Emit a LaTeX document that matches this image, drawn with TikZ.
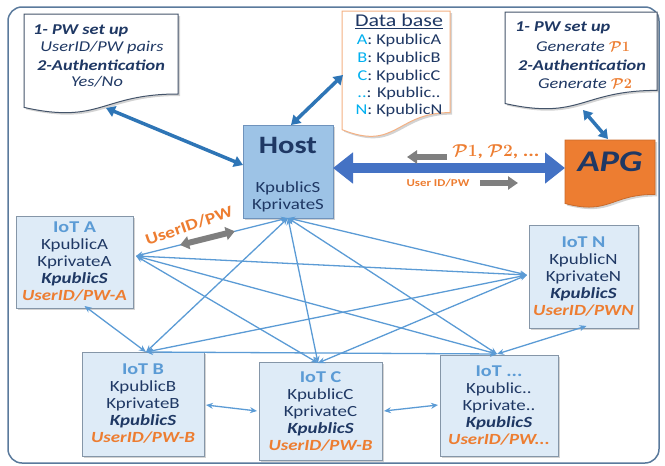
\documentclass[tikz,border=0pt]{standalone}
\usepackage{fontspec}
\setmainfont{Carlito}[FakeStretch=1.22]
\usetikzlibrary{arrows.meta,shadows,calc}
\definecolor{navy}{HTML}{1F3864}
\definecolor{tblue}{HTML}{5B9BD5}
\definecolor{orng}{HTML}{ED7D31}
\definecolor{connc}{HTML}{5B9BD5}
\definecolor{thickc}{HTML}{2E75B6}
\definecolor{bigc}{HTML}{4472C4}
\definecolor{hostfill}{HTML}{9DC3E6}
\definecolor{hostline}{HTML}{6F93BC}
\definecolor{iotfill}{HTML}{DEEBF7}
\definecolor{iotline}{HTML}{8596A8}
\definecolor{cyanl}{HTML}{00B0F0}
\definecolor{framec}{HTML}{5A7A9C}
\definecolor{docline}{HTML}{44546A}
\definecolor{dbline}{HTML}{F4B183}
\definecolor{greyar}{HTML}{7F7F7F}
\newcommand\docpath[5]{\path[#1] (#2,#3) -- (#4,#3) -- (#4,{#3+0.8*#5}) .. controls ({(#2+#4)/2},{#3+0.8*#5}) and ({(#2+#4)/2},{#3+1.107*#5}) .. (#2,{#3+0.934*#5}) -- cycle;}
\newcommand\iottxt[4]{{\fontsize{16.5}{18}\selectfont\bfseries\color{tblue}#1}\\#2\\#3\\{\bfseries\itshape KpublicS}\\{\bfseries\itshape\color{orng}#4}}
\newcommand\calP[1]{{\color{orng}\boldmath$\mathcal{P}#1$}}
\begin{document}
\begin{tikzpicture}[x=1pt,y=-1pt,
  every node/.style={inner sep=0pt, outer sep=0pt, text=navy},
  body/.style={font=\fontsize{15.5}{17}\selectfont},
  docf/.style={font=\fontsize{15}{17}\selectfont},
  shd/.style={drop shadow={shadow xshift=2pt, shadow yshift=-2pt, opacity=0.35}},
  iot/.style={draw=iotline, fill=iotfill, line width=0.8pt, align=center, body, shd},
  hostbox/.style={draw=hostline, fill=hostfill, line width=0.8pt, shd},
  docsty/.style={draw=docline, fill=white, line width=1pt, shd},
  dbsty/.style={draw=dbline, fill=white, line width=1pt, shd},
  apgsty/.style={draw=orng!85!black, fill=orng, line width=0.8pt, shd},
  conn/.style={draw=connc, line width=1.3pt, {Stealth[length=7pt,width=6pt]}-{Stealth[length=7pt,width=6pt]}},
  fat/.style={draw=thickc, line width=3.5pt, {Triangle[length=9pt,width=11pt]}-{Triangle[length=9pt,width=11pt]}},
  bigarrow/.style={draw=bigc, line width=10pt, {Triangle[length=20pt,width=30pt]}-{Triangle[length=20pt,width=30pt]}},
  greyarrow/.style={draw=greyar, line width=6pt, -{Triangle[length=10pt,width=13pt]}},
  greydbl/.style={draw=greyar, line width=6pt, {Triangle[length=9pt,width=13pt]}-{Triangle[length=9pt,width=13pt]}},
  olab/.style={text=orng, font=\fontsize{10.5}{12}\selectfont\bfseries}]
\useasboundingbox (0,0) rectangle (665,466);
\draw[framec, line width=1.5pt, rounded corners=14pt] (8,7) rectangle (659,463);

% documents
\docpath{docsty}{24}{14}{178}{100}
\docpath{dbsty}{342}{11}{450}{127}
\docpath{docsty}{505}{12}{657}{98}
\docpath{apgsty}{565}{140}{655}{68}

% left doc text
\node[anchor=west, font=\fontsize{15}{17}\selectfont\bfseries\itshape] (l1) at (33,31) {1- PW set up};
\node[font=\fontsize{15}{17}\selectfont\itshape] (l2) at (102,48) {UserID/PW pairs};
\node[font=\fontsize{15}{17}\selectfont\bfseries\itshape] (l3) at (101,65) {2-Authentication};
\node[font=\fontsize{15}{17}\selectfont\itshape] (l4) at (97,82) {Yes/No};

% database text
\node[font=\fontsize{18}{20}\selectfont] (dbt) at (399,21) {\underline{Data base}};
\node[docf] (db1) at (399,40) {{\color{cyanl}A}: KpublicA};
\node[docf] (db2) at (399,58) {{\color{cyanl}B}: KpublicB};
\node[docf] (db3) at (399,76) {{\color{cyanl}C}: KpublicC};
\node[docf] (db4) at (399,93) {{\color{cyanl}..}: Kpublic..};
\node[docf] (db5) at (399,110) {{\color{cyanl}N}: KpublicN};

% right doc text
\node[anchor=west, font=\fontsize{15}{17}\selectfont\bfseries\itshape] (r1) at (515,28) {1- PW set up};
\node[font=\fontsize{15}{17}\selectfont\itshape] (r2) at (583,47) {Generate \calP{1}};
\node[font=\fontsize{15}{17}\selectfont\bfseries\itshape] (r3) at (582,65) {2-Authentication};
\node[font=\fontsize{15}{17}\selectfont\itshape] (r4) at (585,84) {Generate \calP{2}};

% APG
\node[font=\fontsize{30}{32}\selectfont\bfseries\itshape] (apg) at (610,162) {APG};

% Host
\node[hostbox, minimum width=90, minimum height=93] (host) at (288,171.5) {};
\node[font=\fontsize{25}{27}\selectfont\bfseries] (hostt) at (288,145) {Host};
\node[body, align=center] (hostk) at (288,197) {KpublicS\\KprivateS};

% IoT boxes
\node[iot, minimum width=117, minimum height=92] (ioa) at (74.5,262) {\iottxt{IoT A}{KpublicA}{KprivateA}{UserID/PW-A}};
\node[iot, minimum width=109, minimum height=103] (ion) at (583.5,276.5) {\iottxt{IoT N}{KpublicN}{KprivateN}{UserID/PWN}};
\node[iot, minimum width=122, minimum height=104] (iob) at (143,404) {\iottxt{IoT B}{KpublicB}{KprivateB}{UserID/PW-B}};
\node[iot, minimum width=123, minimum height=98] (ioc) at (320.5,411) {\iottxt{IoT C}{KpublicC}{KprivateC}{UserID/PW-B}};
\node[iot, minimum width=118, minimum height=101] (iod) at (499,405.5) {\iottxt{IoT ...}{Kpublic..}{Kprivate..}{UserID/PW...}};

% connector end points
\coordinate (pH) at (host.south);
\coordinate (pA) at ($(ioa.east)+(3,-6)$);
\coordinate (pAb) at ($(ioa.south)+(10,-2)$);
\coordinate (pN) at ($(ion.west)+(-2,-1.5)$);
\coordinate (pNb) at ($(ion.south)+(3,-2)$);
\coordinate (pB) at ($(iob.north)+(3,0)$);
\coordinate (pC) at ($(ioc.north)+(-2.5,1)$);
\coordinate (pD) at ($(iod.north)+(-2,-1)$);
\coordinate (pBr) at (206,405);
\coordinate (pCl) at (257,411);
\coordinate (pCr) at (384,411);
\coordinate (pDl) at (438,405);
\coordinate (ldB) at (106,108);
\coordinate (hostL) at (243,165);
\coordinate (hostT) at (291,125);
\coordinate (dbL) at (343,75);
\coordinate (rdB) at (583,110);
\coordinate (apgN) at (608,139);
\coordinate (apgW) at (565,168);
\coordinate (hostE) at (333,168);

% thin connectors
\foreach \a/\b in {pH/pA, pH/pB, pH/pC, pH/pD, pH/pN, pA/pN, pA/pC, pA/pD, pAb/pB, pB/pN, pB/pD, pC/pN, pD/pNb, pBr/pCl, pCr/pDl}
  \draw[conn] (\a) -- (\b);

% thick arrows
\draw[fat] (ldB) -- (hostL);
\draw[fat] (hostT) -- (dbL);
\draw[fat] (rdB) -- (apgN);
\draw[bigarrow] (hostE) -- (apgW);

% grey arrows and labels
\coordinate (ga1s) at (447,157);
\coordinate (ga1e) at (407,157);
\coordinate (ga2s) at (480,183);
\coordinate (ga2e) at (518,183);
\draw[greyarrow] (ga1s) -- (ga1e);
\draw[greyarrow] (ga2s) -- (ga2e);
\draw[greydbl] ($(pH)!0.35!(pA)$) -- ($(pH)!0.71!(pA)$);
\node[font=\fontsize{17}{19}\selectfont\bfseries, text=orng] (plab) at (496,152) {\calP{1}, \calP{2}, ...};
\node[olab] (ulab) at (438,183) {User ID/PW};
\node[text=orng, font=\fontsize{16}{18}\selectfont\bfseries, rotate=19] (uplab) at (189,226) {UserID/PW};
\end{tikzpicture}
\end{document}
